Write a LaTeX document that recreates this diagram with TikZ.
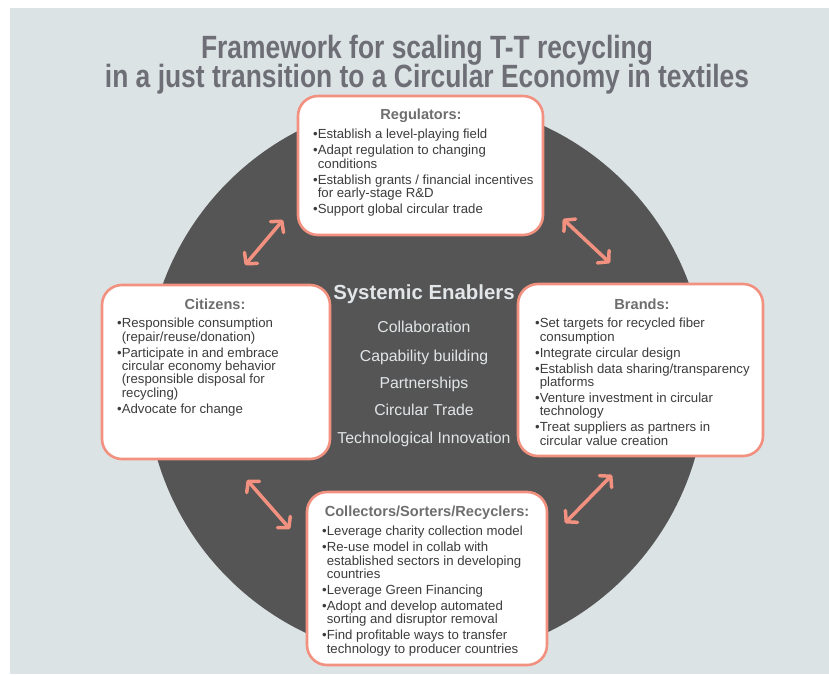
\documentclass[tikz,border=0pt]{standalone}
\usepackage{fontspec}
\setmainfont{Liberation Sans}
\newfontfamily\titlefont{Liberation Sans}[FakeStretch=0.82]
\usetikzlibrary{arrows.meta}
\definecolor{bgblue}{HTML}{DCE3E5}
\definecolor{disc}{HTML}{555555}
\definecolor{salmon}{HTML}{F2917F}
\definecolor{headgray}{HTML}{6E6E6E}
\definecolor{textgray}{HTML}{3C3C3C}
\definecolor{titlegray}{HTML}{6D6E76}
\definecolor{lightgray}{HTML}{E2E6E8}
\newcommand{\blt}{\textbullet}
\newcommand{\cont}{\hphantom{\textbullet}}
\begin{document}
\begin{tikzpicture}[x=1pt, y=-1pt,
  box/.style = {draw=salmon, line width=2.6pt, fill=white, rounded corners=20pt, inner sep=0pt},
  head/.style = {anchor=base, inner sep=0pt, text=headgray, font=\fontsize{14.6}{16}\selectfont\bfseries},
  body/.style = {anchor=north west, inner sep=0pt, align=left, text=textgray, font=\fontsize{13.2}{13.4}\selectfont},
  enabler/.style = {anchor=base, inner sep=0pt, text=lightgray, font=\fontsize{15.8}{18}\selectfont},
  title/.style = {anchor=base, inner sep=0pt, text=titlegray, font=\titlefont\bfseries\fontsize{32.2}{32}\selectfont},
  arr/.style = {draw=salmon, line width=3.5pt, line cap=round, >={Straight Barb[length=7.5pt,width=17pt,round]}, <->}]
\useasboundingbox (0,0) rectangle (829,674);
\fill[white] (0,0) rectangle (829,674);
\fill[bgblue] (10,8) rectangle (829,674);
\fill[disc] (426,380) circle (280pt);

\node[title] (title1) at (427,58.5) {Framework for scaling T-T recycling};
\node[title] (title2) at (427,87.5) {in a just transition to a Circular Economy in textiles};

\node[enabler, font=\fontsize{20.4}{22}\selectfont\bfseries] (se) at (424,299) {Systemic Enablers};
\node[enabler] (e1) at (424,332.6) {Collaboration};
\node[enabler] (e2) at (424,361.6) {Capability building};
\node[enabler] (e3) at (424,388.6) {Partnerships};
\node[enabler] (e4) at (424,415.6) {Circular Trade};
\node[enabler] (e5) at (424,443.6) {Technological Innovation};

\node[box, minimum width=245pt, minimum height=139pt] (reg) at (420.5,165.5) {};
\node[box, minimum width=228pt, minimum height=174pt] (cit) at (216,372) {};
\node[box, minimum width=245pt, minimum height=172pt] (brd) at (640.5,370) {};
\node[box, minimum width=240pt, minimum height=173pt] (col) at (427,578.5) {};

\node[head] (reghead) at (421,120) {Regulators:};
\node[body] (regtext) at (313,129) {\blt Establish a level-playing field\\[2.6pt]
  \blt Adapt regulation to changing\\ \cont conditions\\[2.6pt]
  \blt Establish grants / financial incentives\\ \cont for early-stage R\&D\\[2.6pt]
  \blt Support global circular trade};

\node[head] (cithead) at (215,309) {Citizens:};
\node[body] (cittext) at (117,318) {\blt Responsible consumption\\ \cont (repair/reuse/donation)\\[2.6pt]
  \blt Participate in and embrace\\ \cont circular economy behavior\\ \cont (responsible disposal for\\ \cont recycling)\\[2.6pt]
  \blt Advocate for change};

\node[head] (brdhead) at (642,309) {Brands:};
\node[body] (brdtext) at (535,318) {\blt Set targets for recycled fiber\\ \cont consumption\\[2.6pt]
  \blt Integrate circular design\\[2.6pt]
  \blt Establish data sharing/transparency\\ \cont platforms\\[2.6pt]
  \blt Venture investment in circular\\ \cont technology\\[2.6pt]
  \blt Treat suppliers as partners in\\ \cont circular value creation};

\node[head] (colhead) at (427,516) {Collectors/Sorters/Recyclers:};
\node[body] (coltext) at (322,526) {\blt Leverage charity collection model\\[2.6pt]
  \blt Re-use model in collab with\\ \cont established sectors in developing\\ \cont countries\\[2.6pt]
  \blt Leverage Green Financing\\[2.6pt]
  \blt Adopt and develop automated\\ \cont sorting and disruptor removal\\[2.6pt]
  \blt Find profitable ways to transfer\\ \cont technology to producer countries};

\coordinate (tl1) at (245,265);
\coordinate (tl2) at (283,220);
\coordinate (tr1) at (563,219);
\coordinate (tr2) at (610,263);
\coordinate (bl1) at (247,480);
\coordinate (bl2) at (290,529);
\coordinate (br1) at (612,475);
\coordinate (br2) at (565,523);
\draw[arr] (tl1) -- (tl2);
\draw[arr] (tr1) -- (tr2);
\draw[arr] (bl1) -- (bl2);
\draw[arr] (br1) -- (br2);
\end{tikzpicture}
\end{document}
